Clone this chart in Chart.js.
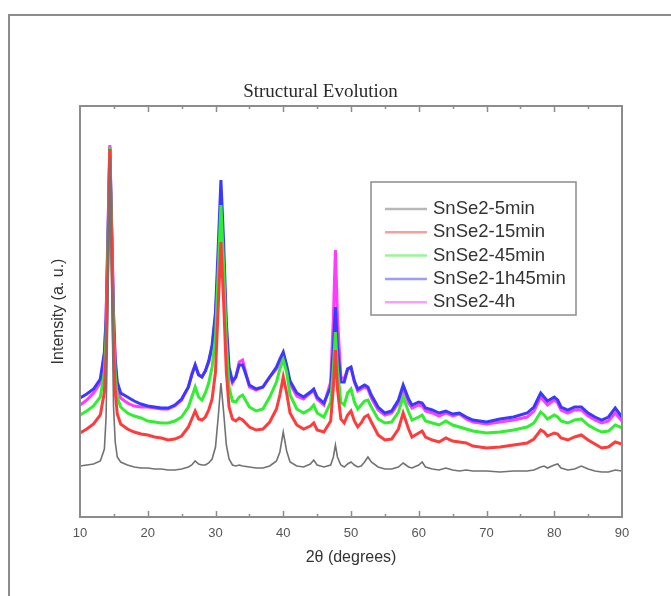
<!DOCTYPE html>
<html>
<head>
<meta charset="utf-8">
<script src="https://cdn.jsdelivr.net/npm/chart.js@4.4.0/dist/chart.umd.min.js"></script>
<style>
html, body { margin:0; padding:0; background:#fff; }
#wrap { position:relative; width:671px; height:596px; overflow:hidden; }
#frame { position:absolute; left:8px; top:14px; width:700px; height:600px; border-top:2px solid #8c8c8c; border-left:2px solid #8c8c8c; }
canvas { position:absolute; left:0; top:0; }
</style>
</head>
<body>
<div id="wrap"><div id="frame"></div><canvas id="xrd" width="671" height="596"></canvas></div>
<script>
// 2theta positions (degrees)
var twoTheta = [10, 11, 12, 13, 13.6, 13.85, 14.1, 14.4, 14.7, 14.95, 15.2, 15.5, 16, 17, 18, 19, 20, 21, 22, 23, 24, 25,
  26, 26.5, 27, 27.5, 28, 28.5, 29, 29.5, 30, 30.4, 30.8, 31.2, 31.6, 32, 32.5, 33, 33.5, 34, 35, 36,
  37, 38, 39, 39.5, 40, 40.5, 41, 42, 43, 44, 44.5, 45, 46, 47, 47.4, 47.7, 48.0, 48.5, 49, 49.5,
  50, 50.5, 51, 51.5, 52, 52.5, 53, 54, 55, 56, 57, 57.7, 58.5, 59, 60, 60.5, 61, 62, 63, 64,
  65, 66, 67, 68, 70, 72, 74, 76, 77, 78, 78.5, 79, 80, 80.5, 81, 82, 83, 84, 85, 86,
  87, 88, 89, 90];

var min5 = [51, 52, 53, 56, 68, 100, 200, 360, 220, 110, 75, 60, 55, 52, 50, 49, 49, 48, 48, 47, 47, 48,
  50, 52, 56, 53, 52, 52, 54, 58, 70, 100, 134, 105, 72, 58, 52, 51, 52, 51, 50, 49,
  49, 51, 56, 65, 85, 66, 55, 51, 50, 53, 57, 52, 50, 52, 60, 72, 60, 52, 50, 53,
  55, 52, 50, 51, 55, 60, 55, 50, 48, 48, 50, 54, 50, 49, 52, 55, 50, 48, 47, 49,
  47, 46, 47, 46, 46, 45, 46, 46, 47, 50, 51, 49, 52, 53, 49, 47, 48, 51, 48, 46,
  45, 45, 47, 46];

var min15 = [84, 88, 93, 102, 125, 165, 250, 368, 260, 170, 125, 103, 93, 88, 85, 83, 82, 80, 79, 77, 78, 81,
  90, 98, 106, 98, 97, 100, 107, 118, 145, 210, 275, 215, 145, 110, 98, 96, 99, 97, 90, 87,
  88, 95, 108, 122, 140, 124, 104, 92, 88, 91, 94, 87, 85, 96, 130, 167, 128, 98, 94, 102,
  106, 96, 90, 94, 100, 102, 95, 82, 77, 78, 88, 104, 88, 80, 84, 86, 80, 77, 75, 79,
  76, 75, 74, 71, 69, 70, 72, 74, 78, 87, 85, 81, 84, 83, 79, 77, 80, 82, 77, 73,
  69, 70, 75, 73];

var min45 = [102, 106, 111, 120, 145, 180, 260, 370, 270, 185, 142, 120, 110, 104, 101, 99, 96, 95, 94, 94, 96, 100,
  110, 120, 130, 120, 117, 124, 134, 150, 180, 245, 312, 250, 175, 130, 116, 115, 120, 122, 110, 106,
  108, 120, 135, 148, 157, 145, 122, 108, 104, 108, 112, 104, 100, 115, 150, 185, 148, 115, 112, 124,
  128, 115, 108, 112, 116, 117, 110, 98, 94, 95, 105, 120, 105, 97, 100, 102, 96, 94, 92, 96,
  92, 90, 88, 86, 84, 85, 87, 90, 94, 105, 102, 98, 102, 100, 96, 94, 97, 98, 92, 88,
  85, 86, 92, 89];

var h1m45 = [119, 123, 128, 138, 165, 198, 270, 370, 280, 200, 158, 135, 124, 120, 116, 113, 111, 110, 109, 109, 112, 118,
  130, 142, 152, 142, 140, 146, 156, 172, 205, 270, 337, 275, 195, 150, 136, 140, 152, 152, 132, 128,
  130, 140, 150, 158, 165, 152, 136, 124, 120, 125, 128, 120, 114, 130, 170, 210, 170, 135, 135, 148,
  150, 136, 128, 130, 132, 130, 122, 110, 104, 106, 117, 132, 118, 112, 115, 114, 109, 107, 104, 106,
  103, 104, 100, 97, 95, 98, 100, 104, 110, 124, 120, 116, 120, 117, 110, 107, 110, 110, 104, 100,
  97, 100, 109, 100];

var h4 = [112, 117, 124, 134, 160, 200, 280, 372, 285, 205, 152, 130, 119, 114, 111, 110, 110, 109, 108, 108, 111, 117,
  130, 143, 152, 143, 140, 146, 155, 170, 200, 255, 302, 250, 185, 145, 134, 140, 155, 157, 130, 127,
  130, 140, 148, 155, 159, 148, 133, 121, 118, 124, 126, 118, 112, 135, 200, 267, 200, 140, 138, 148,
  149, 135, 126, 128, 130, 128, 119, 107, 102, 104, 114, 128, 114, 109, 112, 111, 106, 104, 101, 104,
  101, 103, 98, 95, 93, 95, 97, 100, 106, 120, 116, 112, 117, 114, 107, 104, 107, 107, 101, 97,
  94, 96, 104, 96];

var seriesLabels = ['SnSe2-5min', 'SnSe2-15min', 'SnSe2-45min', 'SnSe2-1h45min', 'SnSe2-4h'];
var seriesValues = [min5, min15, min45, h1m45, h4];
var seriesColors = ['#727272', '#ff3b3b', '#2fef2f', '#3a3aff', '#ff3cff'];
var seriesWidths = [1.6, 3, 3, 3, 3];

var chartTitle = 'Structural Evolution';

function toPoints( values ){
    return values.map(function( v, i ){ return { x: twoTheta[i], y: v }; });
}

var datasets = seriesValues.map(function( values, i ){
    return {
        label: seriesLabels[i],
        data: toPoints( values ),
        borderColor: seriesColors[i],
        borderWidth: seriesWidths[i],
        pointRadius: 0,
        tension: 0,
        fill: false
    };
});

var boxAndLegend = {
    id: 'boxAndLegend',
    afterDraw: function( chart ){
        var ctx = chart.ctx;
        var ca = chart.chartArea;
        var xs = chart.scales.x;
        ctx.save();
        // plot frame
        ctx.strokeStyle = '#8c8c8c';
        ctx.lineWidth = 2;
        ctx.strokeRect( ca.left, ca.top, ca.right - ca.left, ca.bottom - ca.top );
        // inward ticks, top and bottom
        ctx.lineWidth = 1.5;
        for( var v = 15; v < 90; v += 5 ){
            var px = Math.round( xs.getPixelForValue( v ) ) + 0.5;
            var len = ( v % 10 === 0 ) ? 6 : 3;
            ctx.beginPath();
            ctx.moveTo( px, ca.bottom ); ctx.lineTo( px, ca.bottom - len );
            ctx.moveTo( px, ca.top ); ctx.lineTo( px, ca.top + len );
            ctx.stroke();
        }
        // title
        ctx.fillStyle = '#2a2a2a';
        ctx.font = '19px "Liberation Serif"';
        ctx.textAlign = 'center';
        ctx.textBaseline = 'middle';
        ctx.fillText( chartTitle, 320.5, 92 );
        // legend
        ctx.fillStyle = '#fff';
        ctx.fillRect( 371, 182, 205, 133 );
        ctx.strokeStyle = '#8c8c8c';
        ctx.lineWidth = 1.5;
        ctx.strokeRect( 371, 182, 205, 133 );
        ctx.font = '18.5px "Liberation Sans"';
        ctx.textAlign = 'left';
        chart.data.datasets.forEach(function( ds, i ){
            var y = 209 + i * 23.3;
            ctx.globalAlpha = 0.5;
            ctx.strokeStyle = ds.borderColor;
            ctx.lineWidth = 2.5;
            ctx.beginPath();
            ctx.moveTo( 385, y ); ctx.lineTo( 427, y );
            ctx.stroke();
            ctx.globalAlpha = 1;
            ctx.fillStyle = '#333';
            ctx.fillText( ds.label, 433, y );
        });
        ctx.restore();
    }
};

var ctx = document.getElementById( 'xrd' ).getContext( '2d' );
var xrdChart = new Chart( ctx, {
    type: 'line',
    data: { datasets: datasets },
    plugins: [ boxAndLegend ],
    options: {
        responsive: false,
        animation: false,
        layout: { padding: { left: 49, right: 49, top: 106, bottom: 29 } },
        plugins: {
            legend: { display: false },
            tooltip: { enabled: false },
            title: { display: false }
        },
        scales: {
            x: {
                type: 'linear',
                min: 10,
                max: 90,
                ticks: {
                    stepSize: 10,
                    color: '#555',
                    font: { family: 'Liberation Sans', size: 13 },
                    padding: 9
                },
                grid: { display: false, drawTicks: false },
                border: { display: false },
                title: {
                    display: true,
                    text: '2θ (degrees)',
                    color: '#333',
                    font: { family: 'Liberation Sans', size: 16 },
                    padding: 0
                },
                afterFit: function( scale ){ scale.height = 50; }
            },
            y: {
                min: 0,
                max: 411,
                ticks: { display: false },
                grid: { display: false, drawTicks: false },
                border: { display: false },
                title: {
                    display: true,
                    text: 'Intensity (a. u.)',
                    color: '#333',
                    font: { family: 'Liberation Sans', size: 16 },
                    padding: 0
                },
                afterFit: function( scale ){ scale.width = 31; }
            }
        }
    }
});
</script>
</body>
</html>
